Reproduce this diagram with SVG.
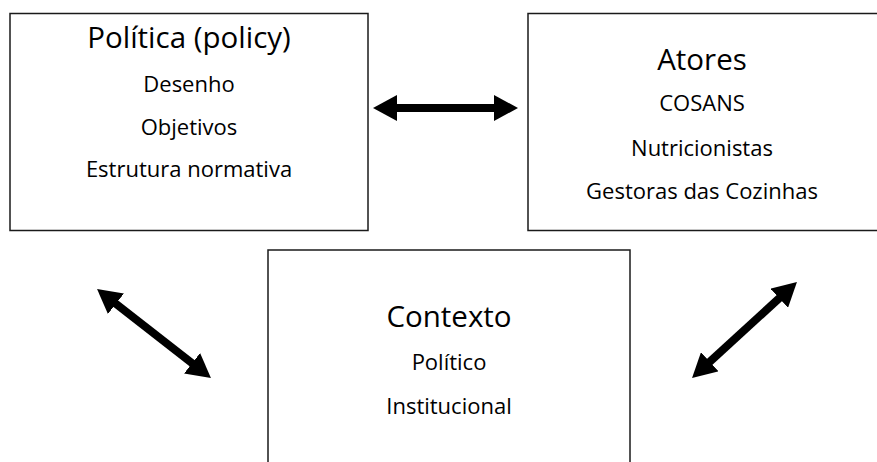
<svg xmlns="http://www.w3.org/2000/svg" width="877" height="462" viewBox="0 0 877 462">
  <style>
    .box { fill: #ffffff; stroke: #1a1a1a; stroke-width: 1.5; }
    .title { font-family: "Open Sans", "Liberation Sans", sans-serif; font-size: 29.5px; fill: #000; text-anchor: middle; }
    .item { font-family: "Open Sans", "Liberation Sans", sans-serif; font-size: 22px; fill: #000; text-anchor: middle; }
    .conn { stroke: #000; stroke-width: 8; fill: none; marker-start: url(#head); marker-end: url(#head); }
  </style>
  <defs>
    <marker id="head" markerUnits="userSpaceOnUse" viewBox="0 0 24 26" markerWidth="24" markerHeight="26" refX="4" refY="13" orient="auto-start-reverse">
      <path d="M0,0 L24,13 L0,26 Z" fill="#000"/>
    </marker>
  </defs>
  <rect width="877" height="462" fill="#ffffff"/>

  <g id="politica">
    <rect class="box" x="10" y="13.5" width="358" height="217"/>
    <text class="title" x="189" y="48">Política (policy)</text>
    <text class="item" x="189" y="92">Desenho</text>
    <text class="item" x="189" y="135">Objetivos</text>
    <text class="item" x="189" y="177">Estrutura normativa</text>
  </g>

  <g id="atores">
    <rect class="box" x="528" y="13.5" width="352" height="217"/>
    <text class="title" x="702" y="70">Atores</text>
    <text class="item" x="702" y="111">COSANS</text>
    <text class="item" x="702" y="156">Nutricionistas</text>
    <text class="item" x="702" y="199">Gestoras das Cozinhas</text>
  </g>

  <g id="contexto">
    <rect class="box" x="268" y="250" width="362" height="230"/>
    <text class="title" x="449" y="327">Contexto</text>
    <text class="item" x="449" y="370">Político</text>
    <text class="item" x="449" y="414">Institucional</text>
  </g>

  <g id="connectors">
    <line class="conn" x1="393" y1="108" x2="498" y2="108"/>
    <line class="conn" x1="112.8" y1="301.3" x2="195.2" y2="365.7"/>
    <line class="conn" x1="706.8" y1="364.5" x2="782.2" y2="295.5"/>
  </g>
</svg>
